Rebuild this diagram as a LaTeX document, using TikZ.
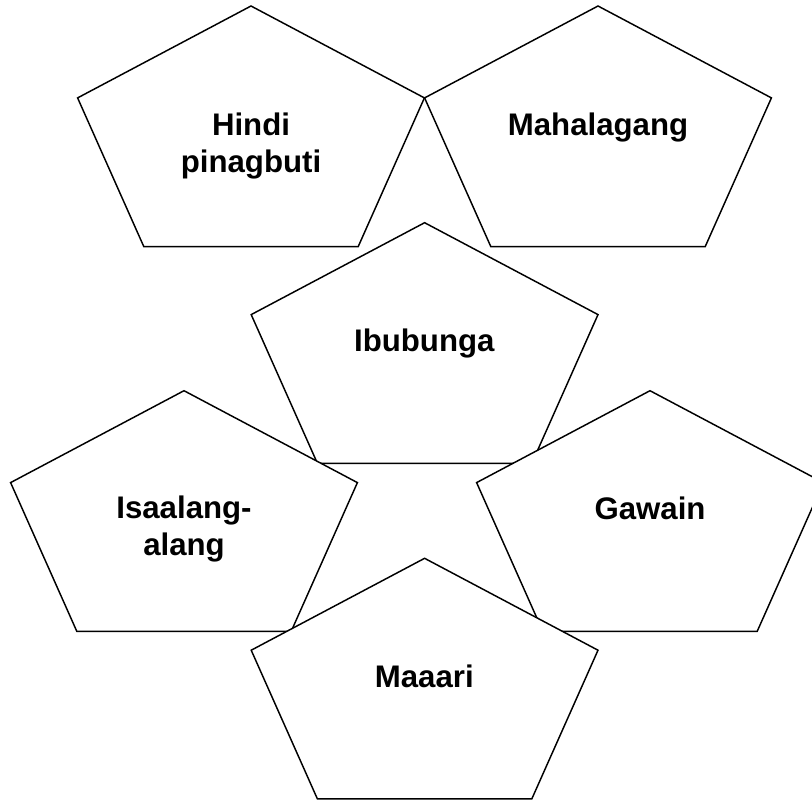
\documentclass[tikz,border=0pt]{standalone}
\usepackage{fontspec}
\setmainfont{Liberation Sans}
\begin{document}
\begin{tikzpicture}[x=0.75pt,y=-0.75pt,
  pentpath/.style={draw=black, fill=white, line width=1.1pt, line join=miter},
  lbl/.style={font=\bfseries\fontsize{23.4}{28}\selectfont, inner sep=0pt, anchor=base},
  pics/pent/.style={code={\draw[pentpath] (0,-133) -- (173.4,-41.1) -- (107.2,107.6) -- (-107.2,107.6) -- (-173.4,-41.1) -- cycle;}}]
\useasboundingbox (0,0) rectangle (812,799);
\fill[white] (0,0) rectangle (812,799);
\begin{scope}
\clip (0,0) rectangle (812,799);
\pic (p1) at (251,139) {pent};
\pic (p2) at (598,139) {pent};
\pic (p3) at (424.6,355.7) {pent};
\pic (p4) at (184,523.7) {pent};
\pic (p5) at (650,523.7) {pent};
\pic (p6) at (424.6,691.3) {pent};
\end{scope}
\node[lbl] (t1) at (251,135) {\begin{tabular}[t]{@{}c@{}}Hindi\\pinagbuti\end{tabular}};
\node[lbl] (t2) at (598,135) {Mahalagang};
\node[lbl] (t3) at (424.3,351.7) {Ibubunga};
\node[lbl] (t4) at (184,518.5) {\begin{tabular}[t]{@{}c@{}}Isaalang-\\alang\end{tabular}};
\node[lbl] (t5) at (650,519.5) {Gawain};
\node[lbl] (t6) at (424.3,687.3) {Maaari};
\end{tikzpicture}
\end{document}
